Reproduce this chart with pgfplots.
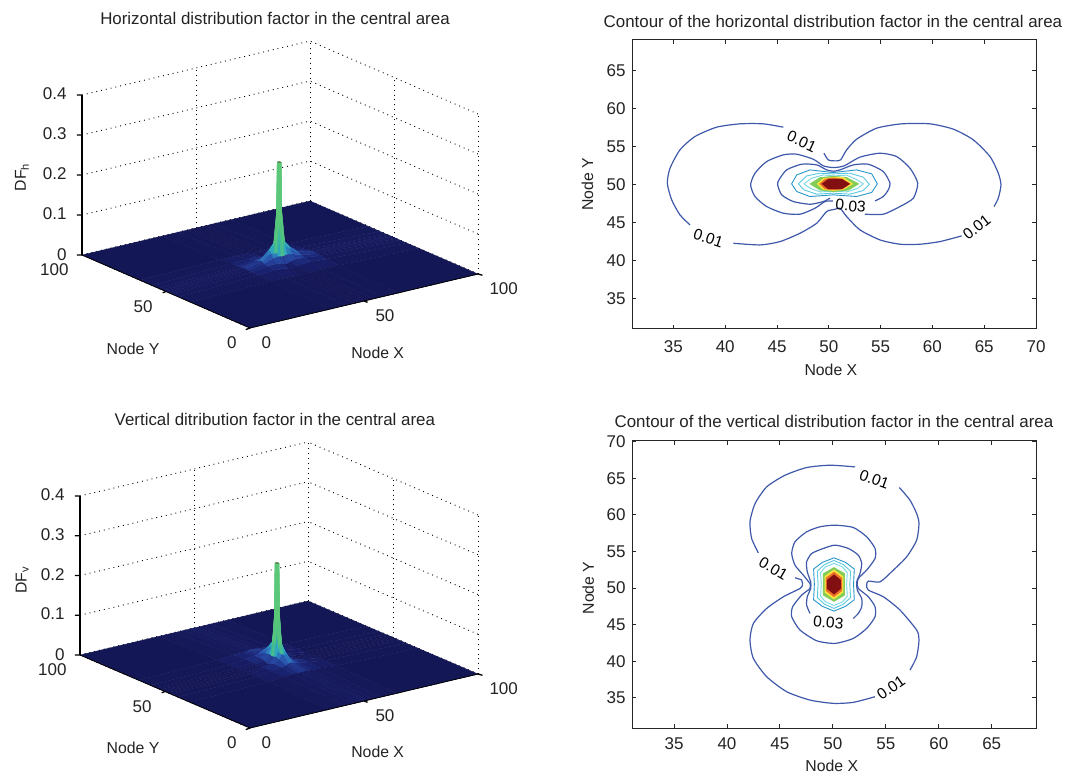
\documentclass[border=0pt]{standalone}
\usepackage{pgfplots}
\pgfplotsset{compat=1.18}
\usepackage{fontspec}
\setmainfont{Liberation Sans}
\definecolor{txt}{RGB}{35,35,35}
\definecolor{cl1}{RGB}{62,88,170}
\definecolor{cl2}{RGB}{40,150,200}
\definecolor{cl3}{RGB}{90,200,225}
\definecolor{cl4}{RGB}{120,215,225}
\definecolor{cgr}{RGB}{130,205,90}
\definecolor{cye}{RGB}{250,225,60}
\definecolor{cor}{RGB}{235,110,40}
\definecolor{cre}{RGB}{130,15,18}
\pgfplotsset{
 colormap={df}{rgb255(0)=(20,22,82); rgb255(1)=(24,30,105); rgb255(2)=(36,62,152); rgb255(3)=(42,95,180); rgb255(4)=(45,130,190); rgb255(5)=(45,160,190); rgb255(6)=(50,178,185); rgb255(7)=(60,185,160); rgb255(8)=(72,190,140); rgb255(9)=(80,195,130); rgb255(10)=(82,195,128); rgb255(11)=(84,196,126); rgb255(12)=(85,197,125); rgb255(13)=(86,198,124); rgb255(14)=(87,198,123); rgb255(15)=(88,199,122); rgb255(16)=(88,199,122); rgb255(17)=(89,199,121); rgb255(18)=(89,200,121); rgb255(19)=(89,200,121); rgb255(20)=(90,200,120); rgb255(21)=(90,200,120); rgb255(22)=(90,200,120); rgb255(23)=(90,200,120); rgb255(24)=(90,200,120); rgb255(25)=(90,200,120); rgb255(26)=(90,200,120); rgb255(27)=(90,200,120); rgb255(28)=(90,190,115); rgb255(29)=(90,170,105); rgb255(30)=(110,120,80)},
 threed/.style={
  x={(2.28pt,0.54pt)},y={(-1.68pt,0.73pt)},
  xmin=0,xmax=100,ymin=0,ymax=100,zmin=0,zmax=0.4,
  xtick={0,50,100},ytick={0,50,100},ztick={0,0.1,0.2,0.3,0.4},
  zticklabels={0,0.1,0.2,0.3,0.4},
  /pgf/number format/assume math mode=true,
  grid=major,grid style={black,line width=0.9pt,dash pattern=on 0.9pt off 4pt},
  axis line style={draw=none},
  major tick length=0pt,
  tick style={draw=none},
  tick label style={font=\fontsize{17}{17}\selectfont,text=txt},
  label style={font=\fontsize{15.8}{16}\selectfont,text=txt},
  title style={font=\fontsize{16.9}{17}\selectfont,text=txt},
  xticklabel style={anchor=west,xshift=8pt,yshift=-15pt},
  yticklabel style={anchor=east,xshift=-10pt,yshift=-15pt},
  zticklabel style={xshift=-12pt},
  colormap name=df,
  point meta min=0,point meta max=0.255,
  clip=false,
 },
 spk/.style={surf,shader=faceted,faceted color=mapped color,line width=0.3pt,z buffer=sort,mesh/cols=14},
 boxln/.style={black,line width=1.3pt,no marks,forget plot},
 twod/.style={
  scale only axis,width=404pt,height=289pt,
  /pgf/number format/assume math mode=true,
  tick align=inside,major tick length=4pt,
  axis line style={black!85,line width=1pt},
  tick style={black!85,line width=0.9pt},
  tick label style={font=\fontsize{17}{17}\selectfont,text=txt},
  label style={font=\fontsize{15.8}{16}\selectfont,text=txt},
  title style={font=\fontsize{16.9}{17}\selectfont,text=txt},
  yticklabel style={xshift=-3pt},
  clip=false,
 },
 lv1/.style={cl1,line width=1.2pt,no marks,smooth,tension=0.4},
 lv2/.style={cl2,line width=0.9pt,no marks},
 lv3/.style={cl3,line width=0.9pt,no marks},
 lv4/.style={cl4,line width=0.9pt,no marks},
}
\newcommand{\clab}[4]{\node[font=\fontsize{15.5}{16}\selectfont,text=black,rotate=#4,inner sep=0pt] at (axis cs:#1,#2) {#3};}
\newcommand{\frontbox}{%
\addplot3[boxln] coordinates {(0,100,0)(0,100,0.4)};
\addplot3[boxln,line width=0.8pt] coordinates {(0,100,0)(0,0,0)(100,0,0)};
\addplot3[boxln] coordinates {(0,100,0)(-1.42,101.05,0)};
\addplot3[boxln] coordinates {(0,100,0.1)(-1.42,101.05,0.1)};
\addplot3[boxln] coordinates {(0,100,0.2)(-1.42,101.05,0.2)};
\addplot3[boxln] coordinates {(0,100,0.3)(-1.42,101.05,0.3)};
\addplot3[boxln] coordinates {(0,100,0.4)(-1.42,101.05,0.4)};
\addplot3[boxln] coordinates {(0,0,0)(-1.2,0.9,-0.004)};
\addplot3[boxln] coordinates {(100,0,0)(101.5,-0.6,-0.004)};
\addplot3[boxln] coordinates {(50,0,0)(51.2,-0.5,-0.004)};
\addplot3[boxln] coordinates {(0,50,0)(-0.7,51,-0.004)};
}
\begin{document}
\begin{tikzpicture}
\path[use as bounding box] (0,0) rectangle (1066pt,-774pt);

% ---------- top left
\begin{axis}[threed,z={(0pt,400pt)},at={(250pt,-328pt)},anchor=origin,
 title={Horizontal distribution factor in the central area},
 title style={at={(axis cs:47.8,50,0.604)},anchor=center},
 xlabel={Node X},xlabel style={at={(axis cs:56,0,-0.138)},anchor=center},
 ylabel={Node Y},ylabel style={at={(axis cs:0,69.6,-0.18)},anchor=center},
 zlabel={DF\textsubscript{h}},zlabel style={at={(axis cs:0,135.7,0.129)},anchor=center,rotate=0},
]
\addplot3[spk] coordinates {
(0,0,0)(35,0,0)(42,0,0)(46,0,0)(48,0,0)(49.2,0,0)(49.5,0,0)(50.5,0,0)(50.8,0,0)(52,0,0)(54,0,0)(58,0,0)(65,0,0)(100,0,0)
(0,35.5,0)(35,35.5,.004)(42,35.5,.004)(46,35.5,.003)(48,35.5,.003)(49.2,35.5,.002)(49.5,35.5,.002)(50.5,35.5,.002)(50.8,35.5,.002)(52,35.5,.003)(54,35.5,.003)(58,35.5,.004)(65,35.5,.004)(100,35.5,0)
(0,42.5,0)(35,42.5,.007)(42,42.5,.010)(46,42.5,.009)(48,42.5,.007)(49.2,42.5,.005)(49.5,42.5,.004)(50.5,42.5,.004)(50.8,42.5,.005)(52,42.5,.007)(54,42.5,.009)(58,42.5,.010)(65,42.5,.007)(100,42.5,0)
(0,46.5,0)(35,46.5,.008)(42,46.5,.013)(46,46.5,.014)(48,46.5,.012)(49.2,46.5,.009)(49.5,46.5,.008)(50.5,46.5,.008)(50.8,46.5,.009)(52,46.5,.012)(54,46.5,.014)(58,46.5,.013)(65,46.5,.008)(100,46.5,0)
(0,48.5,0)(35,48.5,.009)(42,48.5,.016)(46,48.5,.024)(48,48.5,.026)(49.2,48.5,.025)(49.5,48.5,.024)(50.5,48.5,.024)(50.8,48.5,.025)(52,48.5,.026)(54,48.5,.024)(58,48.5,.016)(65,48.5,.009)(100,48.5,0)
(0,49.7,0)(35,49.7,.010)(42,49.7,.019)(46,49.7,.036)(48,49.7,.045)(49.2,49.7,.09)(49.5,49.7,.11)(50.5,49.7,.11)(50.8,49.7,.09)(52,49.7,.045)(54,49.7,.036)(58,49.7,.019)(65,49.7,.010)(100,49.7,0)
(0,50,0)(35,50,.010)(42,50,.020)(46,50,.040)(48,50,.055)(49.2,50,.13)(49.5,50,.255)(50.5,50,.255)(50.8,50,.13)(52,50,.055)(54,50,.040)(58,50,.020)(65,50,.010)(100,50,0)
(0,51,0)(35,51,.010)(42,51,.020)(46,51,.040)(48,51,.055)(49.2,51,.13)(49.5,51,.255)(50.5,51,.255)(50.8,51,.13)(52,51,.055)(54,51,.040)(58,51,.020)(65,51,.010)(100,51,0)
(0,51.3,0)(35,51.3,.010)(42,51.3,.019)(46,51.3,.036)(48,51.3,.045)(49.2,51.3,.09)(49.5,51.3,.11)(50.5,51.3,.11)(50.8,51.3,.09)(52,51.3,.045)(54,51.3,.036)(58,51.3,.019)(65,51.3,.010)(100,51.3,0)
(0,52.5,0)(35,52.5,.009)(42,52.5,.016)(46,52.5,.024)(48,52.5,.026)(49.2,52.5,.025)(49.5,52.5,.024)(50.5,52.5,.024)(50.8,52.5,.025)(52,52.5,.026)(54,52.5,.024)(58,52.5,.016)(65,52.5,.009)(100,52.5,0)
(0,54.5,0)(35,54.5,.008)(42,54.5,.013)(46,54.5,.014)(48,54.5,.012)(49.2,54.5,.009)(49.5,54.5,.008)(50.5,54.5,.008)(50.8,54.5,.009)(52,54.5,.012)(54,54.5,.014)(58,54.5,.013)(65,54.5,.008)(100,54.5,0)
(0,58.5,0)(35,58.5,.007)(42,58.5,.010)(46,58.5,.009)(48,58.5,.007)(49.2,58.5,.005)(49.5,58.5,.004)(50.5,58.5,.004)(50.8,58.5,.005)(52,58.5,.007)(54,58.5,.009)(58,58.5,.010)(65,58.5,.007)(100,58.5,0)
(0,65.5,0)(35,65.5,.004)(42,65.5,.004)(46,65.5,.003)(48,65.5,.003)(49.2,65.5,.002)(49.5,65.5,.002)(50.5,65.5,.002)(50.8,65.5,.002)(52,65.5,.003)(54,65.5,.003)(58,65.5,.004)(65,65.5,.004)(100,65.5,0)
(0,100,0)(35,100,0)(42,100,0)(46,100,0)(48,100,0)(49.2,100,0)(49.5,100,0)(50.5,100,0)(50.8,100,0)(52,100,0)(54,100,0)(58,100,0)(65,100,0)(100,100,0)
};
\frontbox
\end{axis}

% ---------- bottom left
\begin{axis}[threed,y={(-1.70pt,0.73pt)},z={(0pt,397.5pt)},at={(250pt,-728pt)},anchor=origin,
 title={Vertical ditribution factor in the central area},
 title style={at={(axis cs:48.2,50,0.605)},anchor=center},
 xlabel={Node X},xlabel style={at={(axis cs:56,0,-0.136)},anchor=center},
 ylabel={Node Y},ylabel style={at={(axis cs:0,68.8,-0.176)},anchor=center},
 zlabel={DF\textsubscript{v}},zlabel style={at={(axis cs:0,134,0.126)},anchor=center,rotate=0},
]
\addplot3[spk] coordinates {
(0,0,0)(34.5,0,0)(41.5,0,0)(45.5,0,0)(47.5,0,0)(48.7,0,0)(49,0,0)(50,0,0)(50.3,0,0)(51.5,0,0)(53.5,0,0)(57.5,0,0)(64.5,0,0)(100,0,0)
(0,35.5,0)(34.5,35.5,.004)(41.5,35.5,.007)(45.5,35.5,.008)(47.5,35.5,.009)(48.7,35.5,.010)(49,35.5,.010)(50,35.5,.010)(50.3,35.5,.010)(51.5,35.5,.009)(53.5,35.5,.008)(57.5,35.5,.007)(64.5,35.5,.004)(100,35.5,0)
(0,42.5,0)(34.5,42.5,.004)(41.5,42.5,.010)(45.5,42.5,.013)(47.5,42.5,.016)(48.7,42.5,.019)(49,42.5,.020)(50,42.5,.020)(50.3,42.5,.019)(51.5,42.5,.016)(53.5,42.5,.013)(57.5,42.5,.010)(64.5,42.5,.004)(100,42.5,0)
(0,46.5,0)(34.5,46.5,.003)(41.5,46.5,.009)(45.5,46.5,.014)(47.5,46.5,.024)(48.7,46.5,.036)(49,46.5,.040)(50,46.5,.040)(50.3,46.5,.036)(51.5,46.5,.024)(53.5,46.5,.014)(57.5,46.5,.009)(64.5,46.5,.003)(100,46.5,0)
(0,48.5,0)(34.5,48.5,.003)(41.5,48.5,.007)(45.5,48.5,.012)(47.5,48.5,.026)(48.7,48.5,.045)(49,48.5,.055)(50,48.5,.055)(50.3,48.5,.045)(51.5,48.5,.026)(53.5,48.5,.012)(57.5,48.5,.007)(64.5,48.5,.003)(100,48.5,0)
(0,49.7,0)(34.5,49.7,.002)(41.5,49.7,.005)(45.5,49.7,.009)(47.5,49.7,.025)(48.7,49.7,.09)(49,49.7,.13)(50,49.7,.13)(50.3,49.7,.09)(51.5,49.7,.025)(53.5,49.7,.009)(57.5,49.7,.005)(64.5,49.7,.002)(100,49.7,0)
(0,50,0)(34.5,50,.002)(41.5,50,.004)(45.5,50,.008)(47.5,50,.024)(48.7,50,.11)(49,50,.255)(50,50,.255)(50.3,50,.11)(51.5,50,.024)(53.5,50,.008)(57.5,50,.004)(64.5,50,.002)(100,50,0)
(0,51,0)(34.5,51,.002)(41.5,51,.004)(45.5,51,.008)(47.5,51,.024)(48.7,51,.11)(49,51,.255)(50,51,.255)(50.3,51,.11)(51.5,51,.024)(53.5,51,.008)(57.5,51,.004)(64.5,51,.002)(100,51,0)
(0,51.3,0)(34.5,51.3,.002)(41.5,51.3,.005)(45.5,51.3,.009)(47.5,51.3,.025)(48.7,51.3,.09)(49,51.3,.13)(50,51.3,.13)(50.3,51.3,.09)(51.5,51.3,.025)(53.5,51.3,.009)(57.5,51.3,.005)(64.5,51.3,.002)(100,51.3,0)
(0,52.5,0)(34.5,52.5,.003)(41.5,52.5,.007)(45.5,52.5,.012)(47.5,52.5,.026)(48.7,52.5,.045)(49,52.5,.055)(50,52.5,.055)(50.3,52.5,.045)(51.5,52.5,.026)(53.5,52.5,.012)(57.5,52.5,.007)(64.5,52.5,.003)(100,52.5,0)
(0,54.5,0)(34.5,54.5,.003)(41.5,54.5,.009)(45.5,54.5,.014)(47.5,54.5,.024)(48.7,54.5,.036)(49,54.5,.040)(50,54.5,.040)(50.3,54.5,.036)(51.5,54.5,.024)(53.5,54.5,.014)(57.5,54.5,.009)(64.5,54.5,.003)(100,54.5,0)
(0,58.5,0)(34.5,58.5,.004)(41.5,58.5,.010)(45.5,58.5,.013)(47.5,58.5,.016)(48.7,58.5,.019)(49,58.5,.020)(50,58.5,.020)(50.3,58.5,.019)(51.5,58.5,.016)(53.5,58.5,.013)(57.5,58.5,.010)(64.5,58.5,.004)(100,58.5,0)
(0,65.5,0)(34.5,65.5,.004)(41.5,65.5,.007)(45.5,65.5,.008)(47.5,65.5,.009)(48.7,65.5,.010)(49,65.5,.010)(50,65.5,.010)(50.3,65.5,.010)(51.5,65.5,.009)(53.5,65.5,.008)(57.5,65.5,.007)(64.5,65.5,.004)(100,65.5,0)
(0,100,0)(34.5,100,0)(41.5,100,0)(45.5,100,0)(47.5,100,0)(48.7,100,0)(49,100,0)(50,100,0)(50.3,100,0)(51.5,100,0)(53.5,100,0)(57.5,100,0)(64.5,100,0)(100,100,0)
};
\frontbox
\end{axis}

% ---------- top right
\begin{axis}[twod,at={(632pt,-328.5pt)},anchor=south west,
 xmin=31,xmax=70,ymin=31,ymax=69.1,
 xtick={35,40,45,50,55,60,65,70},ytick={35,40,45,50,55,60,65},
 xticklabel style={yshift=-9pt},
 title={Contour of the horizontal distribution factor in the central area},
 title style={at={(axis cs:50.4,70.7)},anchor=center},
 xlabel={Node X},xlabel style={at={(axis cs:50.2,25.6)},anchor=center},
 ylabel={Node Y},ylabel style={at={(axis cs:26.7,50)},anchor=center},
]
\addplot[lv1] coordinates {(36.60,44.66)(35.63,45.98)(34.83,47.96)(34.41,50.16)(34.67,52.13)(35.63,54.55)(37.08,56.31)(39.17,57.54)(41.42,57.98)(43.68,57.98)(45.61,57.54)};
\addplot[lv1] coordinates {(49.53,54.11)(49.95,53.23)(50.60,53.10)(51.14,53.23)(51.72,54.55)(52.69,55.96)(54.62,57.41)(57.03,57.98)(59.77,57.98)(62.02,57.28)(63.95,55.87)(65.56,53.67)(66.36,51.47)(66.62,49.94)(66.36,48.18)(65.95,47.08)};
\addplot[lv1] coordinates {(62.82,43.21)(60.73,42.46)(58.80,42.11)(56.87,42.11)(54.94,42.68)(53.01,44.0)(51.72,45.76)(51.08,46.86)(50.60,46.72)(49.79,46.42)(48.83,44.88)(47.22,43.56)(45.29,42.46)(43.36,42.02)(40.78,42.24)};
\addplot[lv1] coordinates {(53.49,46.07)(55.26,46.07)(56.87,47.08)(58.16,48.18)(58.58,50.16)(57.84,52.13)(56.55,53.67)(54.94,54.11)(53.01,53.59)(51.47,52.44)(50.44,52.22)(49.47,52.44)(48.50,53.32)(46.90,53.98)(45.61,53.89)(44.0,53.01)(42.87,51.47)(42.45,49.94)(42.87,48.40)(44.0,47.08)(45.61,46.20)(47.22,46.07)(48.67,46.86)(49.63,47.74)(50.4,47.8)};
\addplot[lv1] coordinates {(54.46,47.82)(55.26,48.4)(55.74,49.28)(55.91,50.16)(55.26,51.69)(53.81,52.66)(52.37,52.57)(51.08,51.91)(50.44,51.74)(49.79,51.91)(48.83,52.57)(47.38,52.66)(45.93,51.91)(45.19,50.6)(45.06,49.94)(45.45,48.62)(46.57,47.74)(48.18,47.38)(49.47,47.74)(50.11,48.18)};
\addplot[lv2] coordinates {(46.41,50.07)(46.90,51.25)(48.18,51.91)(50.44,51.56)(52.69,51.91)(54.14,51.39)(54.68,50.07)(54.14,48.94)(52.69,48.4)(50.44,48.62)(48.18,48.4)(46.90,49.06)} -- cycle;
\addplot[lv3] coordinates {(47.06,50.07)(47.86,51.12)(49.15,51.47)(50.44,51.39)(52.04,51.47)(53.33,50.95)(53.91,50.0)(53.33,49.19)(52.04,48.71)(50.44,48.84)(48.83,48.71)(47.6,49.28)} -- cycle;
\addplot[lv4] coordinates {(47.6,50.07)(48.34,50.81)(49.47,51.25)(50.44,51.12)(51.72,51.21)(52.75,50.6)(53.33,50.07)(52.75,49.45)(51.72,49.01)(50.44,49.1)(49.15,49.01)(48.18,49.5)} -- cycle;
\addplot[draw=none,fill=cgr,no marks] coordinates {(48.12,50.07)(49.15,50.95)(50.44,51.12)(51.72,50.95)(52.95,50.07)(51.88,49.19)(50.44,49.01)(49.15,49.19)} -- cycle;
\addplot[draw=none,fill=cye,no marks] coordinates {(48.83,50.07)(49.47,50.81)(50.44,50.95)(51.4,50.95)(52.37,50.07)(51.4,49.28)(50.44,49.14)(49.47,49.28)} -- cycle;
\addplot[draw=none,fill=cor,no marks] coordinates {(49.08,50.07)(49.63,50.73)(50.44,50.9)(51.34,50.73)(52.11,50.07)(51.34,49.36)(50.44,49.23)(49.63,49.36)} -- cycle;
\addplot[draw=none,fill=cre,no marks] coordinates {(49.31,50.07)(49.95,50.73)(51.24,50.73)(52.04,50.07)(51.24,49.36)(49.95,49.36)} -- cycle;
\clab{47.38}{55.65}{0.01}{-25}
\clab{38.37}{42.9}{0.01}{-18}
\clab{64.27}{44.35}{0.01}{38}
\clab{52.11}{47.16}{0.03}{-5}
\end{axis}

% ---------- bottom right
\begin{axis}[twod,at={(632pt,-728.3pt)},anchor=south west,height=287.6pt,
 xmin=31.03,xmax=69.18,ymin=30.82,ymax=70.14,
 xtick={35,40,45,50,55,60,65},ytick={35,40,45,50,55,60,65,70},
 xticklabel style={yshift=-6pt},
 title={Contour of the vertical distribution factor in the central area},
 title style={at={(axis cs:50.1,71.9)},anchor=center},
 xlabel={Node X},xlabel style={at={(axis cs:49.9,25.7)},anchor=center},
 ylabel={Node Y},ylabel style={at={(axis cs:26.9,50)},anchor=center},
]
\addplot[lv1] coordinates {(42.96,54.81)(42.33,56.77)(42.17,59.05)(42.65,61.55)(43.75,63.83)(45.48,65.42)(47.52,66.47)(49.73,66.79)(52.09,66.56)};
\addplot[lv1] coordinates {(56.28,63.74)(57.28,62.01)(57.91,60.19)(58.13,58.82)(57.91,56.54)(56.97,54.27)(55.71,52.45)(54.46,50.85)(53.35,50.95)(53.19,50.40)(53.35,49.71)(54.77,48.80)(56.34,46.98)(57.91,44.25)(58.13,42.88)(57.91,40.6)(57.28,38.78)};
\addplot[lv1] coordinates {(53.98,35.14)(51.93,34.37)(50.04,34.23)(47.84,34.68)(45.64,35.82)(43.75,37.87)(42.49,40.38)(42.17,42.88)(42.49,45.16)(43.75,47.21)(45.32,48.80)(46.9,49.94)(47.12,50.40)(47.05,51.08)(46.42,51.4)};
\addplot[lv1] coordinates {(47.84,50.62)(47.21,51.76)(46.42,53.13)(46.11,54.72)(46.42,56.32)(47.52,57.68)(48.78,58.37)(50.2,58.59)(51.93,58.27)(53.19,57.0)(53.98,55.41)(53.98,54.04)(53.19,52.45)(52.4,51.31)(52.31,50.62)(52.4,49.94)(53.35,48.8)(53.98,47.44)(53.98,46.07)(53.19,44.48)(51.93,43.11)(50.2,42.43)(48.47,42.79)(46.9,44.25)(46.11,46.07)(46.2,47.44)(47.05,49.03)(47.84,49.94)(47.84,50.62)};
\addplot[lv1] coordinates {(51.93,45.84)(52.4,46.53)(52.72,47.44)(52.72,48.57)(52.31,49.71)(52.25,50.85)(52.56,51.99)(52.72,53.36)(52.4,54.49)(51.46,55.41)(50.2,55.86)(49.1,55.41)(48.0,54.72)(47.52,53.58)(47.58,52.22)(47.9,50.85)(47.9,49.94)(47.58,48.8)(47.52,47.66)(47.84,46.53)};
\addplot[lv2] coordinates {(50.1,54.13)(51.2,53.5)(52.02,52.6)(51.95,50.5)(52.02,48.4)(51.2,47.5)(50.1,46.85)(49.0,47.5)(48.18,48.4)(48.25,50.5)(48.18,52.6)(49.0,53.5)} -- cycle;
\addplot[lv3] coordinates {(50.1,53.77)(51.0,53.2)(51.67,52.3)(51.6,50.5)(51.67,48.7)(51.0,47.8)(50.1,47.21)(49.2,47.8)(48.53,48.7)(48.6,50.5)(48.53,52.3)(49.2,53.2)} -- cycle;
\addplot[lv4] coordinates {(50.1,53.36)(50.9,52.9)(51.36,52.1)(51.3,50.5)(51.36,48.9)(50.9,48.1)(50.1,47.62)(49.3,48.1)(48.84,48.9)(48.9,50.5)(48.84,52.1)(49.3,52.9)} -- cycle;
\addplot[draw=none,fill=cgr,no marks] coordinates {(50.1,52.86)(51.14,52.0)(51.14,49.0)(50.1,48.12)(49.06,49.0)(49.06,52.0)} -- cycle;
\addplot[draw=none,fill=cye,no marks] coordinates {(50.1,52.54)(50.98,51.6)(50.98,49.4)(50.1,48.44)(49.22,49.4)(49.22,51.6)} -- cycle;
\addplot[draw=none,fill=cor,no marks] coordinates {(50.1,52.22)(50.86,51.4)(50.86,49.6)(50.1,48.76)(49.34,49.6)(49.34,51.4)} -- cycle;
\addplot[draw=none,fill=cre,no marks] coordinates {(50.1,51.86)(50.76,51.1)(50.76,49.9)(50.1,49.12)(49.44,49.9)(49.44,51.1)} -- cycle;
\clab{53.92}{64.83}{0.01}{-20}
\clab{44.38}{52.67}{0.01}{-30}
\clab{55.49}{36.4}{0.01}{35}
\clab{49.57}{45.3}{0.03}{-5}
\end{axis}
\end{tikzpicture}
\end{document}
